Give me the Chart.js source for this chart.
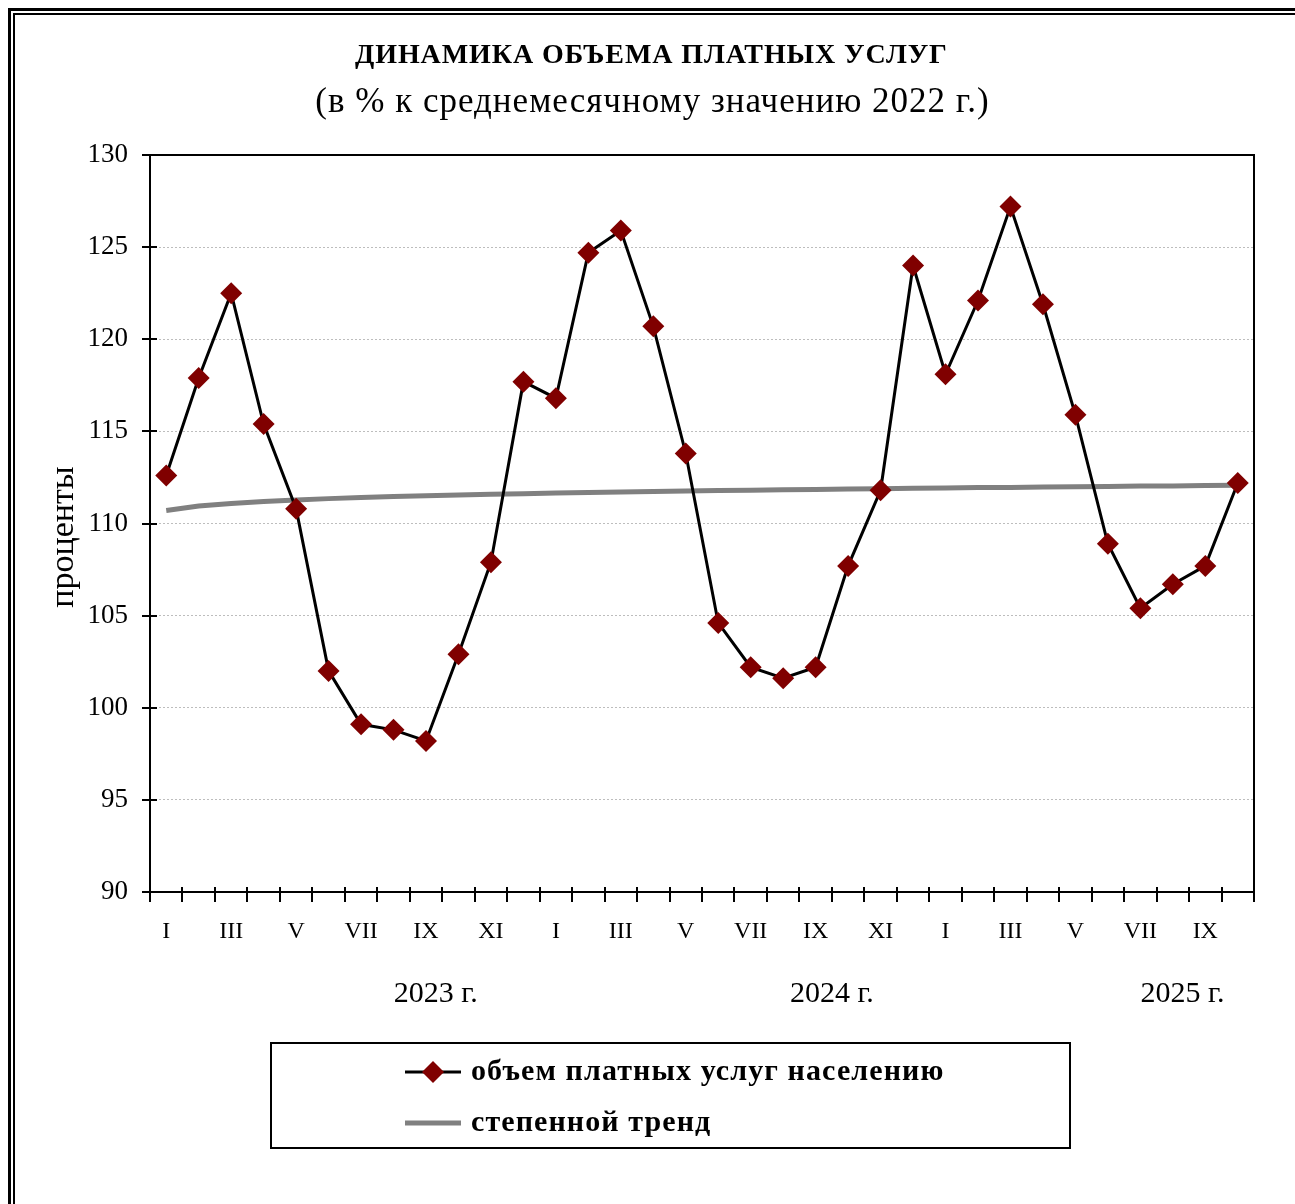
<!DOCTYPE html>
<html>
<head>
<meta charset="utf-8">
<script src="https://cdn.jsdelivr.net/npm/chart.js@4.4.1/dist/chart.umd.min.js"></script>
<style>
  html, body { margin: 0; padding: 0; background: #fff; }
  #chart { display: block; }
</style>
</head>
<body>
<canvas id="chart" width="1295" height="1204"></canvas>
<script>
// months Jan 2023 .. Oct 2025
const monthLabels = [
  "I", "II", "III", "IV", "V", "VI", "VII", "VIII", "IX", "X", "XI", "XII",
  "I", "II", "III", "IV", "V", "VI", "VII", "VIII", "IX", "X", "XI", "XII",
  "I", "II", "III", "IV", "V", "VI", "VII", "VIII", "IX", "X",
];

const servicesVolume = [
  112.6, 117.9, 122.5, 115.4, 110.8, 102.0, 99.1, 98.8, 98.2, 102.9, 107.9, 117.7,
  116.8, 124.7, 125.9, 120.7, 113.8, 104.6, 102.2, 101.6, 102.2, 107.7, 111.8, 124.0,
  118.1, 122.1, 127.2, 121.9, 115.9, 108.9, 105.4, 106.7, 107.7, 112.2,
];

const powerTrend = [
  110.71, 110.95, 111.09, 111.2, 111.28, 111.35, 111.41, 111.46, 111.51, 111.55, 111.59, 111.62,
  111.65, 111.68, 111.71, 111.74, 111.76, 111.79, 111.81, 111.83, 111.85, 111.87, 111.89, 111.91,
  111.93, 111.95, 111.96, 111.98, 112.0, 112.01, 112.03, 112.04, 112.06, 112.08,
];

// year caption and the month index it sits over
const yearLabels = ["2023 г.", "2024 г.", "2025 г."];
const yearPositions = [8.3, 20.5, 31.3];

const yTicks = [90, 95, 100, 105, 110, 115, 120, 125, 130];

const seriesNames = ["объем платных услуг населению", "степенной тренд"];
const titleText = "ДИНАМИКА ОБЪЕМА ПЛАТНЫХ УСЛУГ";
const subtitleText = "(в % к среднемесячному значению 2022 г.)";
const yTitle = "проценты";

const SERIF = "'Liberation Serif', 'Times New Roman', serif";
const RED = "#800000";
const GREY = "#808080";

function drawDiamond(ctx, x, y, r, color) {
  ctx.beginPath();
  ctx.moveTo(x, y - r);
  ctx.lineTo(x + r, y);
  ctx.lineTo(x, y + r);
  ctx.lineTo(x - r, y);
  ctx.closePath();
  ctx.fillStyle = color;
  ctx.fill();
}

// centred text with extra letter spacing (spacing also adds a trailing gap)
function spacedText(ctx, text, cx, y, spacing) {
  ctx.letterSpacing = spacing + "px";
  const w = ctx.measureText(text).width - spacing;
  ctx.textAlign = "left";
  ctx.fillText(text, cx - w / 2, y);
  ctx.letterSpacing = "0px";
}

const decorations = {
  id: "decorations",
  afterDraw(chart) {
    const ctx = chart.ctx;
    const area = chart.chartArea;
    const xs = chart.scales.x;
    const ys = chart.scales.y;
    ctx.save();

    // double frame round the picture
    ctx.strokeStyle = "#000";
    ctx.lineWidth = 3;
    ctx.strokeRect(9.5, 9.5, 1400, 1400);
    ctx.lineWidth = 2;
    ctx.strokeRect(14, 14, 1400, 1400);

    // titles
    ctx.fillStyle = "#000";
    ctx.textBaseline = "alphabetic";
    ctx.font = "bold 28px " + SERIF;
    spacedText(ctx, titleText, 651, 63, 0.9);
    ctx.font = "35px " + SERIF;
    spacedText(ctx, subtitleText, 652, 112, 1.0);

    // y axis title
    ctx.save();
    ctx.translate(64, 537);
    ctx.rotate(-Math.PI / 2);
    ctx.font = "34px " + SERIF;
    ctx.textAlign = "center";
    ctx.textBaseline = "middle";
    ctx.fillText(yTitle, 0, 0);
    ctx.restore();

    // year captions
    ctx.textAlign = "center";
    ctx.font = "30px " + SERIF;
    yearLabels.forEach((label, i) => {
      ctx.fillText(label, xs.getPixelForValue(yearPositions[i]), 1002);
    });

    // plot frame
    ctx.setLineDash([]);
    ctx.lineWidth = 2;
    ctx.strokeStyle = "#000";
    ctx.strokeRect(area.left, area.top, area.right - area.left, area.bottom - area.top);

    // tick marks crossing the axes
    ctx.lineWidth = 2;
    ctx.beginPath();
    for (let i = 0; i <= monthLabels.length; i++) {
      const x = Math.round(xs.getPixelForValue(i - 0.5));
      ctx.moveTo(x, area.bottom - 5);
      ctx.lineTo(x, area.bottom + 10);
    }
    yTicks.forEach((v) => {
      const y = Math.round(ys.getPixelForValue(v));
      ctx.moveTo(area.left - 8, y);
      ctx.lineTo(area.left + 7, y);
    });
    ctx.stroke();

    // legend
    const lx = 271, ly = 1043, lw = 799, lh = 105;
    ctx.lineWidth = 2;
    ctx.strokeRect(lx, ly, lw, lh);
    const rows = [1072, 1123];
    ctx.lineWidth = 3;
    ctx.strokeStyle = "#000";
    ctx.beginPath();
    ctx.moveTo(405, rows[0]);
    ctx.lineTo(461, rows[0]);
    ctx.stroke();
    drawDiamond(ctx, 433, rows[0], 11, RED);
    ctx.lineWidth = 5;
    ctx.strokeStyle = GREY;
    ctx.beginPath();
    ctx.moveTo(405, rows[1]);
    ctx.lineTo(461, rows[1]);
    ctx.stroke();
    ctx.fillStyle = "#000";
    ctx.textAlign = "left";
    ctx.textBaseline = "middle";
    ctx.font = "bold 30px " + SERIF;
    ctx.letterSpacing = "1.1px";
    seriesNames.forEach((name, i) => {
      ctx.fillText(name, 471, rows[i]);
    });
    ctx.letterSpacing = "0px";

    ctx.restore();
  },
};

new Chart(document.getElementById("chart"), {
  type: "line",
  data: {
    labels: monthLabels,
    datasets: [
      {
        label: seriesNames[0],
        data: servicesVolume,
        borderColor: "#000",
        borderWidth: 3,
        tension: 0,
        pointStyle: "rectRot",
        pointRadius: 11,
        pointBorderWidth: 0,
        pointBackgroundColor: RED,
        pointBorderColor: RED,
        order: 0,
      },
      {
        label: seriesNames[1],
        data: powerTrend,
        borderColor: GREY,
        borderWidth: 5,
        tension: 0,
        pointRadius: 0,
        order: 1,
      },
    ],
  },
  options: {
    responsive: false,
    devicePixelRatio: 1,
    animation: false,
    layout: { padding: { top: 155, left: 0, right: 41, bottom: 262 } },
    plugins: {
      legend: { display: false },
      title: { display: false },
      tooltip: { enabled: false },
    },
    scales: {
      x: {
        type: "category",
        offset: true,
        grid: { offset: true, drawOnChartArea: false, drawTicks: false },
        border: { display: true, color: "#000", width: 2 },
        ticks: {
          autoSkip: false,
          maxRotation: 0,
          padding: 25,
          color: "#000",
          font: { family: SERIF, size: 24 },
          callback: (val, idx) => (idx % 2 === 0 ? monthLabels[idx] : ""),
        },
        afterFit: (s) => { s.height = 50; },
      },
      y: {
        min: 90,
        max: 130,
        grid: {
          drawTicks: false,
          color: "#bdbdbd",
          lineWidth: 1,
        },
        border: { display: true, color: "#000", width: 2, dash: [2, 2] },
        ticks: {
          stepSize: 5,
          padding: 22,
          color: "#000",
          font: { family: SERIF, size: 27 },
        },
        afterFit: (s) => { s.width = 150; },
      },
    },
  },
  plugins: [decorations],
});
</script>
</body>
</html>
